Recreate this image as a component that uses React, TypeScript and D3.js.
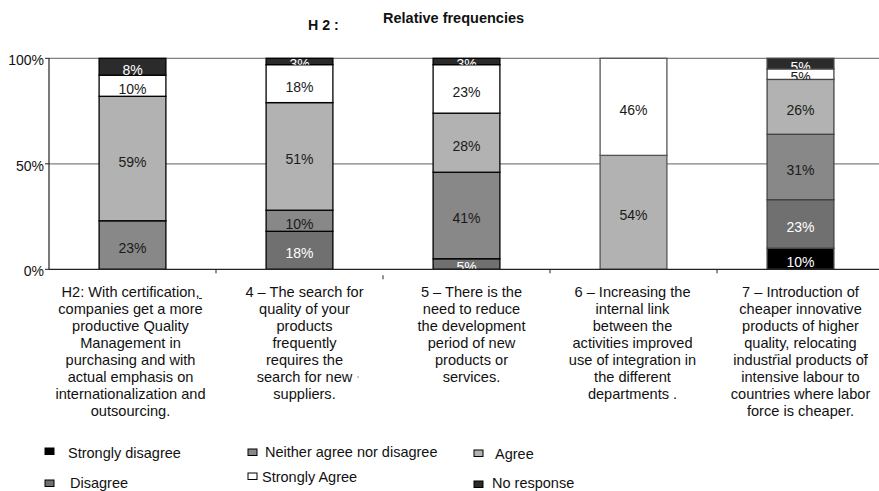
import React from "react";
import * as d3 from "d3";

// ---------- data ----------
const categories = ["H2", "Q4", "Q5", "Q6", "Q7"];
const categoryLabels: string[][] = [
  ["H2: With certification,", "companies get a more", "productive Quality", "Management in", "purchasing and with", "actual emphasis on", "internationalization and", "outsourcing."],
  ["4 – The search for", "quality of your", "products", "frequently", "requires the", "search for new", "suppliers."],
  ["5 – There is the", "need to reduce", "the development", "period of new", "products or", "services."],
  ["6 – Increasing the", "internal link", "between the", "activities improved", "use of integration in", "the different", "departments ."],
  ["7 – Introduction of", "cheaper innovative", "products of higher", "quality, relocating", "industrial products of", "intensive labour to", "countries where labor", "force is cheaper."],
];
const seriesNames = ["Strongly disagree", "Disagree", "Neither agree nor disagree", "Agree", "Strongly Agree", "No response"];
const stronglyDisagree = [0, 0, 0, 0, 10];
const disagree = [0, 18, 5, 0, 23];
const neither = [23, 10, 41, 0, 31];
const agree = [59, 51, 28, 54, 26];
const stronglyAgree = [10, 18, 23, 46, 5];
const noResponse = [8, 3, 3, 0, 5];
const yTicks = [0, 50, 100];
const titleLeft = "H 2 :";
const titleRight = "Relative frequencies";

// ---------- styles ----------
const W = 879, H = 491;
const FONT = "'Liberation Sans', Arial, Helvetica, sans-serif";
const fills = ["#000000", "#707070", "#888888", "#b2b2b2", "#ffffff", "#2b2b2b"];
const textFills = ["#ffffff", "#ffffff", "#1a1a1a", "#1a1a1a", "#1a1a1a", "#ffffff"];
const barStrokes = ["#000", "#000", "#000", "#555", "#444"];
const labelDx = [-2, 5, 5, -1, 0];
// legend layout: [markerX, markerY, textX, baselineY]
const legendLayout = [
  [45, 448, 68, 458],
  [45, 480, 70, 488],
  [248, 449, 265, 457],
  [474, 450, 495, 459],
  [248, 473, 262, 482],
  [474, 481, 492, 488],
];

export default function App() {
  const x = d3.scaleBand<string>().domain(categories).range([49, 884]).paddingInner(0.6).paddingOuter(0.3);
  const y = d3.scaleLinear().domain([0, 100]).range([269.3, 58.3]);
  const rows = categories.map((c, i) => ({
    cat: c,
    s0: stronglyDisagree[i],
    s1: disagree[i],
    s2: neither[i],
    s3: agree[i],
    s4: stronglyAgree[i],
    s5: noResponse[i],
  }));
  const keys = ["s0", "s1", "s2", "s3", "s4", "s5"];
  const stacked = d3.stack<any>().keys(keys)(rows);
  const step = x.step();
  const boundaries = categories.map((c) => (x(c) as number) - step * 0.3 + step);

  return (
    <svg width={W} height={H} style={{ position: "absolute", left: 0, top: 0, background: "#fff" }} fontFamily={FONT}>
      <defs>
        {stacked.map((s, si) =>
          s.map((d, ci) => (
            <clipPath id={`c-${si}-${ci}`} key={`${si}-${ci}`}>
              <rect x={x(categories[ci])} y={y(d[1])} width={x.bandwidth()} height={Math.max(0, y(d[0]) - y(d[1]))} />
            </clipPath>
          ))
        )}
      </defs>
      {/* title */}
      <text x={308} y={30} fontSize={14.2} fontWeight="bold" fill="#111">{titleLeft}</text>
      <text x={383} y={23} fontSize={14.5} fontWeight="bold" fill="#111">{titleRight}</text>

      {/* gridlines */}
      {yTicks.filter((t) => t > 0).map((t) => (
        <line key={t} x1={49} x2={W} y1={y(t)} y2={y(t)} stroke="#808080" strokeWidth={1.2} />
      ))}
      {/* y axis */}
      <line x1={49} x2={49} y1={y(0)} y2={y(100)} stroke="#222" strokeWidth={1.2} />
      {yTicks.map((t) => (
        <g key={t}>
          <line x1={45} x2={49} y1={y(t)} y2={y(t)} stroke="#222" />
          <text x={44} y={y(t) + 7} fontSize={14} textAnchor="end" fill="#111">{t}%</text>
        </g>
      ))}

      {/* bars */}
      {stacked.map((s, si) =>
        s.map((d, ci) => {
          const v = d[1] - d[0];
          if (v <= 0) return null;
          const x0 = x(categories[ci]) as number;
          const yt = y(d[1]);
          const yb = y(d[0]);
          return (
            <g key={`${si}-${ci}`}>
              <rect x={x0} y={yt} width={x.bandwidth()} height={yb - yt} fill={fills[si]} stroke={barStrokes[ci]} strokeWidth={1.3} />
            </g>
          );
        })
      )}
      {/* value labels */}
      {stacked.map((s, si) =>
        s.map((d, ci) => {
          const v = d[1] - d[0];
          if (v <= 0) return null;
          const x0 = x(categories[ci]) as number;
          const cy = (y(d[1]) + y(d[0])) / 2;
          return (
            <text key={`t-${si}-${ci}`} clipPath={`url(#c-${si}-${ci})`} x={x0 + x.bandwidth() / 2} y={cy + 8} fontSize={14} textAnchor="middle" fill={textFills[si]}>
              {v}%
            </text>
          );
        })
      )}

      {/* x axis */}
      <line x1={49} x2={W} y1={y(0)} y2={y(0)} stroke="#222" strokeWidth={1.2} />
      {boundaries.slice(0, 4).map((bx, i) => (
        <line key={i} x1={bx} x2={bx} y1={i === 1 ? y(0) + 6 : y(0)} y2={i === 1 ? y(0) + 10 : y(0) + 4} stroke="#222" />
      ))}
      {/* stray marks */}
      <line x1={199} x2={202} y1={298.5} y2={298.5} stroke="#333" />
      <line x1={357.5} x2={358.5} y1={377} y2={377} stroke="#333" />
      <line x1={774.5} x2={777.5} y1={355} y2={355} stroke="#333" />
      <line x1={863.5} x2={866.5} y1={354.5} y2={354.5} stroke="#333" />

      {/* category labels */}
      {categoryLabels.map((lines, ci) => {
        const cx = (x(categories[ci]) as number) + x.bandwidth() / 2 + labelDx[ci];
        return (
          <text key={ci} fontSize={14.6} textAnchor="middle" fill="#111">
            {lines.map((ln, li) => (
              <tspan key={li} x={cx} y={297.3 + li * 16.9}>{ln}</tspan>
            ))}
          </text>
        );
      })}

      {/* legend */}
      {seriesNames.map((n, i) => {
        const [mx, my, tx, ty] = legendLayout[i];
        return (
          <g key={n}>
            <rect x={mx} y={my} width={9} height={6.5} fill={fills[i]} stroke="#000" strokeWidth={1} />
            <text x={tx} y={ty} fontSize={14.5} fill="#111">{n}</text>
          </g>
        );
      })}
    </svg>
  );
}
